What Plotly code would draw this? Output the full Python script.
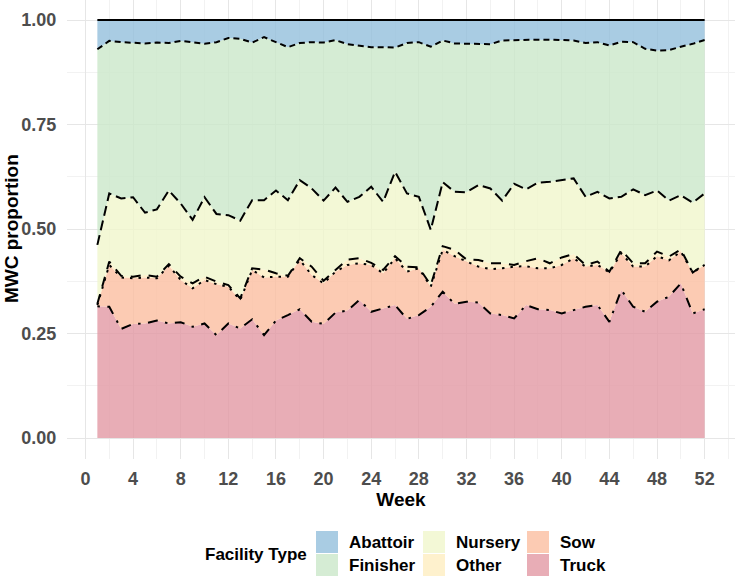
import plotly.graph_objects as go

weeks = list(range(1, 53))

truck = [.315, .314, .261, .273, .274, .281, .274, .277, .266, .274, .246, .274, .262,
         .284, .246, .281, .294, .308, .278, .273, .300, .305, .330, .302, .310, .318,
         .285, .294, .314, .350, .321, .326, .324, .298, .294, .286, .318, .308, .306,
         .298, .306, .314, .318, .278, .354, .314, .302, .326, .338, .370, .298, .308]
sow = [.003, .100, .123, .109, .110, .101, .138, .101, .092, .104, .122, .088, .068,
       .118, .138, .105, .092, .118, .112, .097, .098, .109, .088, .112, .084, .112,
       .113, .112, .048, .100, .114, .096, .086, .106, .112, .124, .093, .098, .100,
       .116, .124, .096, .096, .118, .088, .096, .108, .109, .087, .076, .098, .106]
other = [.003, .008, .004, .004, .006, .004, .004, .008, .012, .008, .006, .004, .004,
         .004, .019, .008, .002, .004, .020, .006, .004, .013, .012, .005, .008, .005,
         .012, .002, .004, .009, .015, .005, .016, .014, .012, .004, .012, .024, .012,
         .018, .010, .004, .008, .002, .008, .008, .008, .011, .009, .005, .000, .002]
nursery = [.141, .163, .185, .190, .149, .161, .176, .175, .152, .190, .162, .167, .186,
           .163, .166, .198, .181, .187, .187, .192, .197, .138, .147, .182, .163, .202,
           .175, .169, .132, .153, .139, .161, .179, .179, .150, .194, .172, .181, .195,
           .185, .181, .163, .167, .175, .127, .177, .163, .146, .134, .130, .167, .169]
finisher = [.468, .365, .374, .369, .405, .399, .353, .389, .425, .367, .411, .424, .435,
            .377, .390, .355, .366, .328, .350, .378, .353, .377, .362, .334, .370, .297,
            .360, .370, .438, .339, .355, .355, .338, .345, .383, .344, .358, .342, .340,
            .335, .330, .368, .358, .366, .371, .352, .350, .335, .360, .355, .380, .367]
abattoir = [.070, .050, .053, .055, .056, .054, .055, .050, .053, .057, .053, .043, .045,
            .054, .041, .053, .065, .055, .053, .054, .048, .058, .061, .065, .065, .066,
            .055, .053, .064, .049, .056, .057, .057, .058, .049, .048, .047, .047, .047,
            .048, .049, .055, .053, .061, .052, .053, .069, .073, .072, .064, .057, .048]

x_ticks = list(range(0, 53, 4))
y_ticks = [0, 0.25, 0.5, 0.75, 1.0]
y_tick_labels = ["0.00", "0.25", "0.50", "0.75", "1.00"]

# stacking order: bottom to top
series = [
    ("Truck", truck, "rgba(226,152,164,0.8)", "2.5px,7.5px,10px,7.5px"),
    ("Sow", sow, "rgba(251,190,160,0.8)", "2.5px,6px"),
    ("Other", other, "rgba(254,238,193,0.8)", "10px,8px"),
    ("Nursery", nursery, "rgba(240,246,204,0.8)", "10px,5px"),
    ("Finisher", finisher, "rgba(203,231,201,0.8)", "6px,4px"),
    ("Abattoir", abattoir, "rgba(148,191,220,0.8)", "solid"),
]
colors = {name: col for name, _, col, _ in series}

fig = go.Figure()
for name, vals, col, dash in series:
    fig.add_trace(go.Scatter(x=weeks, y=vals, name=name, stackgroup="fill",
                             mode="lines", line=dict(width=0), fillcolor=col,
                             showlegend=False, hoverinfo="skip"))
for name, vals, col, dash in series:
    fig.add_trace(go.Scatter(x=weeks, y=vals, name=name + " line", stackgroup="lines",
                             fill="none", mode="lines",
                             line=dict(color="black", width=2, dash=dash),
                             showlegend=False, hoverinfo="skip"))

W, H = 735, 576
ML, MR, MT, MB = 67, 0, 0, 117
PW, PH = W - ML - MR, H - MT - MB


def px(x_page):
    return (x_page - ML) / PW


def py(y_page):
    return (H - MB - y_page) / PH


font_fam = "Liberation Sans, Arial, sans-serif"

# manual legend (ggplot-style, column-major)
legend_order = [["Abattoir", "Finisher"], ["Nursery", "Other"], ["Sow", "Truck"]]
col_x = [316, 423, 527]
row_y = [531, 554]
shapes = []
annotations = []
for ci, col_items in enumerate(legend_order):
    for ri, name in enumerate(col_items):
        x0 = col_x[ci]
        y0 = row_y[ri]
        shapes.append(dict(type="rect", xref="paper", yref="paper",
                           x0=px(x0), x1=px(x0 + 22), y0=py(y0 + 22), y1=py(y0),
                           fillcolor=colors[name], line=dict(width=0)))
        annotations.append(dict(text=name, xref="paper", yref="paper",
                                x=px(x0 + 31), y=py(y0 + 11), xanchor="left",
                                yanchor="middle", showarrow=False,
                                font=dict(family=font_fam, size=17, color="black",
                                          weight="bold")))
annotations.append(dict(text="Facility Type", xref="paper", yref="paper",
                        x=px(203), y=py(554), xanchor="left", yanchor="middle",
                        showarrow=False,
                        font=dict(family=font_fam, size=17, color="black", weight="bold")))
# y-axis title
annotations.append(dict(text="MWC proportion", xref="paper", yref="paper",
                        x=px(11), y=py(229), xanchor="center", yanchor="middle",
                        textangle=-90, showarrow=False,
                        font=dict(family=font_fam, size=19, color="black", weight="bold")))

# y scale: 0 at page y 438, 1 at page y 20 -> 418 px per unit
y_top = 1 + 20 / 418
y_bot = -((H - MB) - 438) / 418

fig.update_layout(
    width=W, height=H,
    margin=dict(l=ML, r=MR, t=MT, b=MB, autoexpand=False),
    plot_bgcolor="white", paper_bgcolor="white",
    shapes=shapes, annotations=annotations,
    showlegend=False,
    font=dict(family=font_fam),
)
fig.update_xaxes(
    range=[-1.55, 54.55], tickmode="array", tickvals=x_ticks,
    showgrid=True, gridcolor="#e6e6e6", gridwidth=1,
    minor=dict(dtick=2, tick0=0, showgrid=True, gridcolor="#f2f2f2", gridwidth=1),
    zeroline=False, showline=False,
    ticks="outside", ticklen=3, tickcolor="rgba(0,0,0,0)",
    tickfont=dict(family=font_fam, size=18, color="#4d4d4d", weight="bold"),
    title=dict(text="Week", standoff=2,
               font=dict(family=font_fam, size=19, color="black", weight="bold")),
    automargin=False,
)
fig.update_yaxes(
    range=[y_bot, y_top], tickmode="array", tickvals=y_ticks, ticktext=y_tick_labels,
    showgrid=True, gridcolor="#e6e6e6", gridwidth=1,
    minor=dict(dtick=0.125, tick0=0, showgrid=True, gridcolor="#f2f2f2", gridwidth=1),
    zeroline=False, showline=False,
    ticks="outside", ticklen=6, tickcolor="rgba(0,0,0,0)",
    tickfont=dict(family=font_fam, size=18, color="#4d4d4d", weight="bold"),
    automargin=False,
)

fig.write_html("out.html", config={"displayModeBar": False},
               post_script="document.body.style.margin='0';document.body.style.padding='0';")
